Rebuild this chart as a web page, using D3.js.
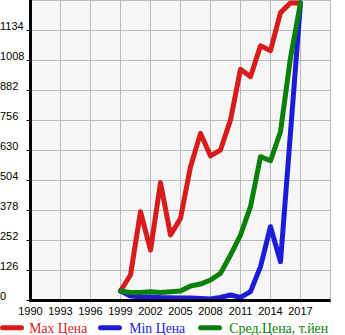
<!DOCTYPE html>
<html><head><meta charset="utf-8">
<script src="https://cdn.jsdelivr.net/npm/d3@7"></script>
<style>body{margin:0;background:#fff}svg{display:block}</style>
</head><body>
<svg id="c" width="345" height="335"></svg>
<script>
const years = [1999,2000,2001,2002,2003,2004,2005,2006,2007,2008,2009,2010,2011,2012,2013,2014,2015,2016,2017];
const maxPrice = [40,107,373,212,495,275,345,562,702,607,632,758,971,940,1070,1049,1209,1250,1250];
const minPrice = [40,19,16,15,13,12,10,10,8,6,13,23,13,37,142,310,163,705,1250];
const avgPrice = [40,34,34,37,34,37,40,61,69,86,114,191,275,394,604,587,709,1020,1250];
const yTicks = [0,126,252,378,504,630,756,882,1008,1134];
const xTicks = [1990,1993,1996,1999,2002,2005,2008,2011,2014,2017];
const seriesNames = ["Max Цена","Min Цена","Сред.Цена, т.йен"];
const colors = ["#d81c1c","#1c1cd8","#0a800a"];

const svg = d3.select("#c");
const x = d3.scaleLinear().domain([1990,2020]).range([30.5,330.5]);
const y = d3.scaleLinear().domain([0,1260]).range([300.5,0.5]);

svg.append("rect").attr("x",x(1990)).attr("y",y(1260)).attr("width",x(2020)-x(1990)).attr("height",y(0)-y(1260)).attr("fill","#f6f6f6");

const grid = svg.append("g").attr("stroke","#bbbbbb").attr("stroke-width",1);
[...xTicks,2020].forEach(t=>grid.append("line").attr("x1",x(t)).attr("x2",x(t)).attr("y1",y(1260)).attr("y2",y(0)+3));
[...yTicks,1260].forEach(t=>grid.append("line").attr("x1",x(1990)).attr("x2",x(2020)).attr("y1",y(t)).attr("y2",y(t)));
yTicks.forEach(t=>svg.append("line").attr("x1",x(1990)-4).attr("x2",x(1990)).attr("y1",y(t)).attr("y2",y(t)).attr("stroke","#000").attr("stroke-width",1));

svg.append("g").selectAll("text").data(yTicks).join("text")
  .attr("x",0).attr("y",d=>y(d)-1).text(d=>d)
  .attr("font-family","Liberation Sans, Arial, sans-serif").attr("font-size",11).attr("fill","#000");
svg.append("g").selectAll("text").data(xTicks).join("text")
  .attr("x",d=>x(d)).attr("y",315).attr("text-anchor","middle").text(d=>d)
  .attr("font-family","Liberation Sans, Arial, sans-serif").attr("font-size",11).attr("fill","#000");

const line = d3.line().x((d,i)=>x(years[i])).y(d=>y(d));
[maxPrice,minPrice,avgPrice].forEach((s,k)=>{
  svg.append("path").datum(s).attr("d",line).attr("fill","none")
    .attr("stroke",colors[k]).attr("stroke-width",5).attr("stroke-linejoin","round").attr("stroke-linecap","round");
});

svg.append("line").attr("x1",x(1990)).attr("x2",x(1990)).attr("y1",0).attr("y2",y(0)+1.5).attr("stroke","#000").attr("stroke-width",3);
svg.append("line").attr("x1",x(1990)-1.5).attr("x2",x(2020)).attr("y1",y(0)).attr("y2",y(0)).attr("stroke","#000").attr("stroke-width",3);

// legend
const lx = [2.5,100.5,200.5];
const tx = [29.3,129.3,229.3];
const tw = [58,56,99];
seriesNames.forEach((n,k)=>{
  svg.append("line").attr("x1",lx[k]).attr("x2",lx[k]+19).attr("y1",327.7).attr("y2",327.7)
    .attr("stroke",colors[k]).attr("stroke-width",5).attr("stroke-linecap","round");
  const t = svg.append("text").attr("x",tx[k]).attr("y",332.5).text(n)
    .attr("font-family","Liberation Serif, Times New Roman, serif").attr("font-size",14).attr("fill",colors[k]);
  const w = t.node().getComputedTextLength();
  if (w > 0) t.attr("font-size", 14 * tw[k] / w);
});
</script>
</body></html>
